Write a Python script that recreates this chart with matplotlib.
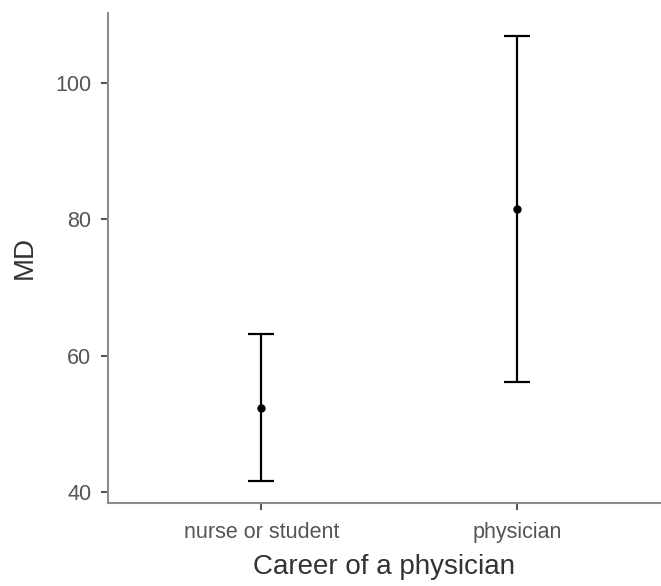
import matplotlib
matplotlib.use("Agg")
import matplotlib.pyplot as plt

categories = ["nurse or student", "physician"]
means = [52.4, 81.5]
lower = [41.6, 56.1]
upper = [63.2, 106.9]
yticks = [40, 60, 80, 100]

plt.rcParams['font.family'] = ['Liberation Sans', 'DejaVu Sans']

fig = plt.figure(figsize=(6.61, 5.86), dpi=100)
ax = fig.add_axes([108/661, (586-502.5)/586, (660-108)/661, (502.5-13)/586])

x = list(range(len(categories)))
yerr = [[m - l for m, l in zip(means, lower)], [u - m for m, u in zip(means, upper)]]
ax.errorbar(x, means, yerr=yerr, fmt='o', color='black', ms=5, elinewidth=1.6,
            capsize=9.2, capthick=1.6, zorder=3)

ax.set_xlim(-0.6, 1.56)
ax.set_ylim(38.5, 110.2)
ax.set_xticks(x)
ax.set_xticklabels(categories)
ax.set_yticks(yticks)

for s in ['top', 'right']:
    ax.spines[s].set_visible(False)
for s in ['left', 'bottom']:
    ax.spines[s].set_color('#8c8c8c')
    ax.spines[s].set_linewidth(1.5)

ax.tick_params(axis='both', colors='#555555', length=5, width=1.5, labelsize=15.5)
ax.tick_params(axis='x', pad=9)
ax.tick_params(axis='y', pad=7)
ax.set_xlabel("Career of a physician", fontsize=20, color='#333333')
ax.set_ylabel("MD", fontsize=20, color='#333333')
ax.xaxis.set_label_coords(0.5, -0.106)
ax.yaxis.set_label_coords(-0.128, 0.5)

fig.savefig("out.png", dpi=100)
